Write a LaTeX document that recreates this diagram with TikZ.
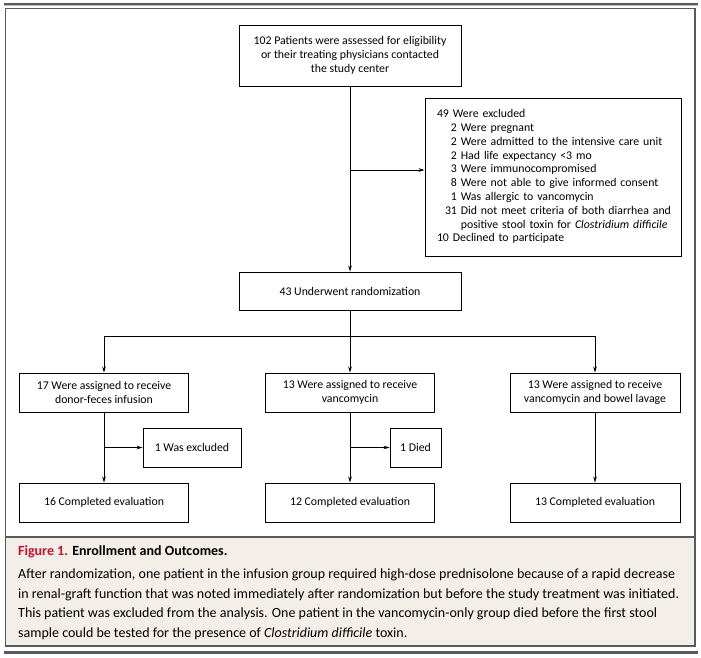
\documentclass[tikz,border=0pt]{standalone}
\usepackage{fontspec}
\setmainfont{Carlito}
\usetikzlibrary{arrows.meta}
\definecolor{framecol}{HTML}{5A5A5A}
\definecolor{capbg}{HTML}{F3EEE8}
\definecolor{figred}{HTML}{C8102E}
\begin{document}
\begin{tikzpicture}[x=1pt,y=-1pt,
  box/.style={draw=black, line width=0.9pt, inner sep=0pt, align=center,
    font=\fontsize{11.8}{13.8}\selectfont},
  conn/.style={line width=0.8pt, draw=black},
  arr/.style={conn, -{Stealth[length=6pt,width=3.6pt]}}]
\useasboundingbox (0,0) rectangle (701,657);
% rules and frame
\draw[framecol, line width=2pt] (4,3.5) -- (698,3.5);
\draw[framecol!40, line width=0.6pt] (4,5.3) -- (698,5.3);
\fill[capbg] (5.5,537) rectangle (695,646);
\draw[framecol, line width=1.2pt] (5.5,8.5) rectangle (695,646);
\draw[framecol, line width=1.2pt] (5.5,537) -- (695,537);
\draw[framecol, line width=2.5pt] (4,652.5) -- (698,652.5);
% nodes
\node[box, minimum width=222pt, minimum height=61pt] (top) at (350,55.5)
  {102 Patients were assessed for eligibility\\or their treating physicians contacted\\the study center};
\node[box, text width=232pt, inner xsep=12pt, minimum height=158pt, align=left] (excl) at (553,177)
  {\begin{tabular}{@{}l@{\hspace{8pt}}r@{\ }l@{}}
   \multicolumn{3}{@{}l@{}}{49 Were excluded}\\
   & 2 & Were pregnant\\
   & 2 & Were admitted to the intensive care unit\\
   & 2 & Had life expectancy <3 mo\\
   & 3 & Were immunocompromised\\
   & 8 & Were not able to give informed consent\\
   & 1 & Was allergic to vancomycin\\
   & 31 & Did not meet criteria of both diarrhea and\\
   & & positive stool toxin for \textit{Clostridium difficile}\\
   \multicolumn{3}{@{}l@{}}{10 Declined to participate}
   \end{tabular}};
\node[box, minimum width=222pt, minimum height=38pt] (rand) at (350,291) {43 Underwent randomization};
\node[box, minimum width=169pt, minimum height=39pt] (arma) at (104,392.5)
  {17 Were assigned to receive\\donor-feces infusion};
\node[box, minimum width=169pt, minimum height=39pt] (armb) at (350,392.5)
  {13 Were assigned to receive\\vancomycin};
\node[box, minimum width=170pt, minimum height=39pt] (armc) at (595,392.5)
  {13 Were assigned to receive\\vancomycin and bowel lavage};
\node[box, minimum width=98pt, minimum height=39pt] (sidea) at (192,447.5) {1 Was excluded};
\node[box, minimum width=51pt, minimum height=39pt] (sideb) at (415.5,447.5) {1 Died};
\node[box, minimum width=169pt, minimum height=39pt] (compa) at (104,502.5) {16 Completed evaluation};
\node[box, minimum width=169pt, minimum height=39pt] (compb) at (350,502.5) {12 Completed evaluation};
\node[box, minimum width=170pt, minimum height=39pt] (compc) at (595,502.5) {13 Completed evaluation};
% connectors
\coordinate (ex) at (350,170);
\coordinate (br) at (350,336);
\draw[arr] (top) -- (rand);
\draw[arr] (ex) -- (ex -| excl.west);
\draw[conn] (rand) -- (br);
\draw[arr] (br) -| (arma.north);
\draw[arr] (br) -- (armb.north);
\draw[arr] (br) -| (armc.north);
\draw[arr] (arma) -- (compa);
\draw[arr] (armb) -- (compb);
\draw[arr] (armc) -- (compc);
\draw[arr] (sidea.west -| arma.south) -- (sidea.west);
\draw[arr] (sideb.west -| armb.south) -- (sideb.west);
% caption
\node[anchor=north west, inner sep=0pt, align=left, font=\fontsize{14}{19.4}\selectfont] (cap) at (18,545)
  {{\color{figred}\bfseries Figure 1.} \textbf{Enrollment and Outcomes.}\\[4.5pt]
   After randomization, one patient in the infusion group required high-dose prednisolone because of a rapid decrease\\
   in renal-graft function that was noted immediately after randomization but before the study treatment was initiated.\\
   This patient was excluded from the analysis. One patient in the vancomycin-only group died before the first stool\\
   sample could be tested for the presence of \textit{Clostridium difficile} toxin.};
\end{tikzpicture}
\end{document}
